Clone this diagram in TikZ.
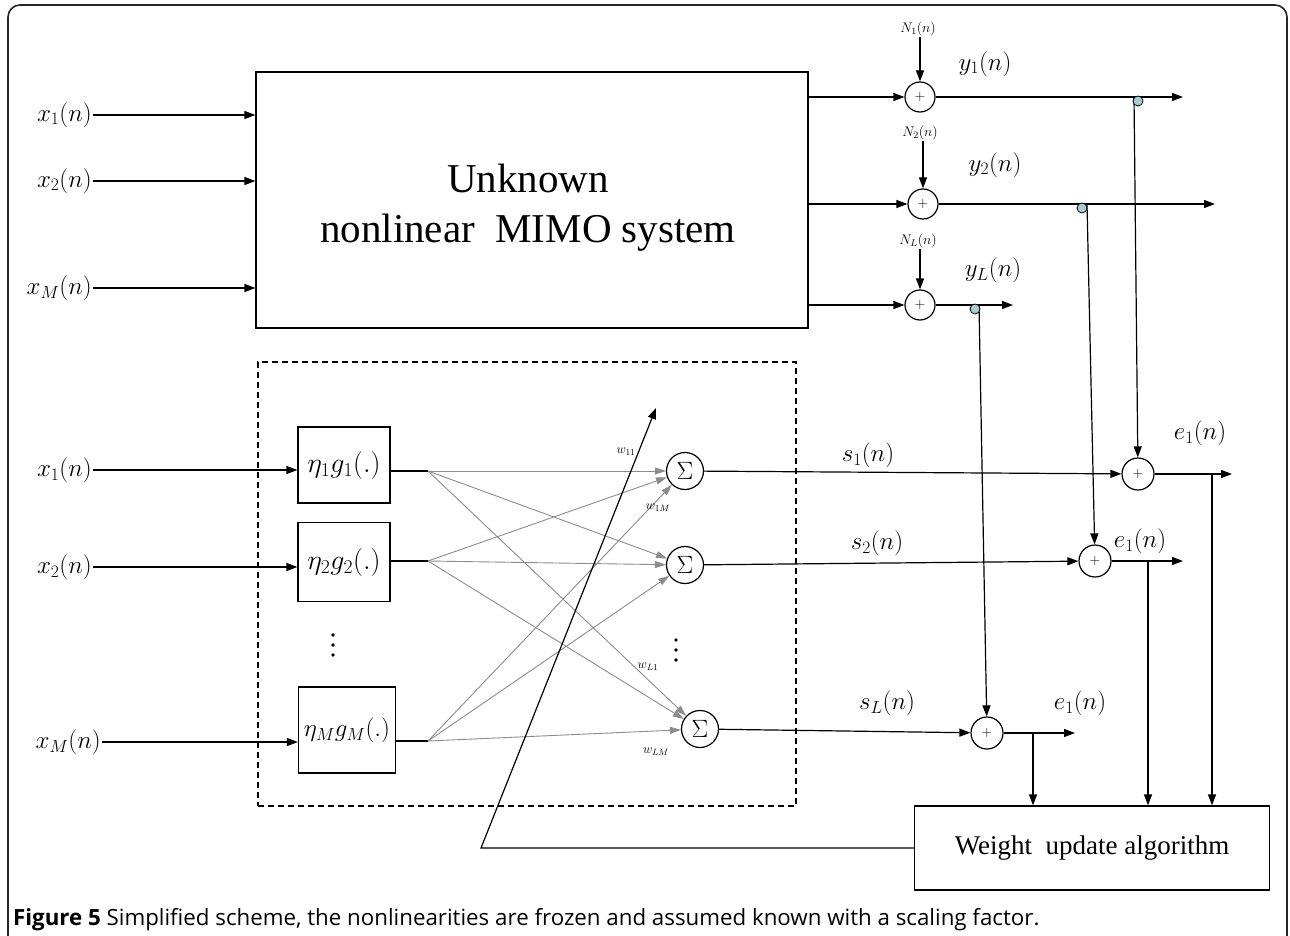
\RequirePackage{fix-cm}
\documentclass[tikz,border=0pt]{standalone}
\usepackage{fontspec}
\setmainfont{Liberation Serif}
\newfontfamily\capfont{Open Sans}
\usetikzlibrary{arrows.meta,calc}
\definecolor{tapblue}{RGB}{168,206,212}
\definecolor{fangray}{RGB}{140,140,140}
\begin{document}
\begin{tikzpicture}[x=1pt,y=-1pt,
  wire/.style={line width=1.2pt},
  arr/.style={wire,-{Triangle[length=11pt,width=8pt]}},
  fan/.style={line width=0.9pt,draw=fangray,-{Triangle[length=11pt,width=7pt,fill=fangray]}},
  blk/.style={draw,line width=1.2pt,inner sep=0pt},
  sumc/.style={draw,circle,line width=1.2pt,inner sep=0pt,minimum size=30pt,font=\fontsize{14}{14}\selectfont},
  sigc/.style={sumc,minimum size=37pt,font=\fontsize{25}{25}\selectfont},
  tap/.style={draw,circle,fill=tapblue,line width=0.8pt,inner sep=0pt,minimum size=10pt},
  lab/.style={font=\fontsize{25}{29}\selectfont,inner sep=1pt},
  tiny/.style={font=\fontsize{14}{16}\selectfont,inner sep=1pt},
  wl/.style={font=\fontsize{13}{15}\selectfont,inner sep=0pt},
  glab/.style={font=\fontsize{28}{32}\selectfont}
]
\useasboundingbox (0,0) rectangle (1290,936);
\draw[line width=1.6pt,rounded corners=12pt,draw=black!85] (8,940) -- (8,5) -- (1287,5) -- (1287,940);

% ---------- unknown system ----------
\node[blk,minimum width=552pt,minimum height=256pt] (sys) at (532,200) {};
\node[font=\fontsize{41}{50}\selectfont,align=center] (systxt) at (528,208) {Unknown\\nonlinear\ \ MIMO system};

\node[lab,anchor=east] (x1) at (93,115) {$x_1(n)$};
\node[lab,anchor=east] (x2) at (93,181) {$x_2(n)$};
\node[lab,anchor=east] (xM) at (93,288) {$x_M(n)$};
\draw[arr] (x1.east) -- (x1.east -| sys.west);
\draw[arr] (x2.east) -- (x2.east -| sys.west);
\draw[arr] (xM.east) -- (xM.east -| sys.west);

\node[sumc] (a1) at (920,97) {$+$};
\node[sumc] (a2) at (923,204) {$+$};
\node[sumc] (a3) at (920,305) {$+$};
\draw[arr] (a1 -| sys.east) -- (a1.west);
\draw[arr] (a2 -| sys.east) -- (a2.west);
\draw[arr] (a3 -| sys.east) -- (a3.west);

\node[tiny] (n1) at (918,29) {$N_1(n)$};
\node[tiny] (n2) at (920,133) {$N_2(n)$};
\node[tiny] (n3) at (918,241) {$N_L(n)$};
\draw[arr] (n1.south -| a1) -- (a1.north);
\draw[arr] (n2.south -| a2) -- (a2.north);
\draw[arr] (n3.south -| a3) -- (a3.north);

\node[lab] (y1) at (985,64) {$y_1(n)$};
\node[lab] (y2) at (995,165) {$y_2(n)$};
\node[lab] (yL) at (993,270) {$y_L(n)$};

\coordinate (y1e) at (1183,97);
\coordinate (y2e) at (1215,204);
\coordinate (y3e) at (1013,305);
\draw[arr] (a1) -- (y1e);
\draw[arr] (a2) -- (y2e);
\draw[arr] (a3) -- (y3e);

% ---------- model ----------
\node[draw,line width=1.1pt,dash pattern=on 6pt off 4pt,minimum width=538pt,minimum height=444pt,inner sep=0pt] (dbox) at (527,584) {};

\node[blk,minimum width=92pt,minimum height=76pt,glab] (g1) at (344,465) {$\eta_1 g_1(.)$};
\node[blk,minimum width=92pt,minimum height=79pt,glab] (g2) at (344,562) {$\eta_2 g_2(.)$};
\node[blk,minimum width=97pt,minimum height=86pt,font=\fontsize{25}{29}\selectfont] (gM) at (347,730) {$\eta_M g_M(.)$};

\node[lab,anchor=east] (u1) at (93,470) {$x_1(n)$};
\node[lab,anchor=east] (u2) at (93,567) {$x_2(n)$};
\node[lab,anchor=east] (uM) at (102,742) {$x_M(n)$};
\draw[arr] (u1.east) -- (u1.east -| g1.west);
\draw[arr] (u2.east) -- (u2.east -| g2.west);
\draw[arr] (uM.east) -- (uM.east -| gM.west);

\coordinate (f1) at (428,471);
\coordinate (f2) at (428,561);
\coordinate (f3) at (428,741);
\draw[wire] (f1 -| g1.east) -- (f1);
\draw[wire] (f2 -| g2.east) -- (f2);
\draw[wire] (f3 -| gM.east) -- (f3);

\node[sigc] (S1) at (685,471) {$\Sigma$};
\node[sigc] (S2) at (685,565) {$\Sigma$};
\node[sigc] (S3) at (700,729) {$\Sigma$};

\foreach \f in {f1,f2,f3}{
  \foreach \s in {S1,S2,S3}{
    \draw[fan] (\f) -- (\s);
  }
}

\node[wl] (w11) at (626,452) {$w_{11}$};
\node[wl] (w1M) at (658,508) {$w_{1M}$};
\node[wl] (wL1) at (648,667) {$w_{L1}$};
\node[wl] (wLM) at (656,752) {$w_{LM}$};

\foreach \yy in {635,645,655} \fill (333,\yy) circle (1.8pt);
\foreach \yy in {640,650,660} \fill (676,\yy) circle (1.8pt);

% ---------- error sums ----------
\node[sumc,minimum size=32pt] (e1) at (1138,474) {$+$};
\node[sumc,minimum size=32pt] (e2) at (1095,561) {$+$};
\node[sumc,minimum size=32pt] (e3) at (987,733) {$+$};

\draw[arr] (S1) -- (e1);
\draw[arr] (S2) -- (e2);
\draw[arr] (S3) -- (e3);
\node[lab] (s1) at (868,455) {$s_1(n)$};
\node[lab] (s2) at (877,543) {$s_2(n)$};
\node[lab] (sL) at (887,703) {$s_L(n)$};

\coordinate (j1) at (1134,97);
\coordinate (j2) at (1087,204);
\coordinate (j3) at (979,305);
\draw[arr] (j1) -- (e1);
\draw[arr] (j2) -- (e2);
\draw[arr] (j3) -- (e3);
\node[tap] (d1) at (1138,101) {};
\node[tap] (d2) at (1082,208) {};
\node[tap] (d3) at (975,309) {};

% ---------- weight update ----------
\node[blk,minimum width=355pt,minimum height=84pt,font=\fontsize{27}{30}\selectfont] (wb) at (1092,848) {Weight\ \ update algorithm};

\coordinate (eo1) at (1232,474);
\coordinate (eo2) at (1183,561);
\coordinate (eo3) at (1075,733);
\draw[arr] (e1) -- (eo1);
\draw[arr] (e2) -- (eo2);
\draw[arr] (e3) -- (eo3);
\node[lab] (el1) at (1200,433) {$e_1(n)$};
\node[lab] (el2) at (1140,541) {$e_1(n)$};
\node[lab] (el3) at (1080,703) {$e_1(n)$};

\coordinate (b1) at (1212,474);
\coordinate (b2) at (1148,561);
\coordinate (b3) at (1033,733);
\draw[arr] (b1) -- (b1 |- wb.north);
\draw[arr] (b2) -- (b2 |- wb.north);
\draw[arr] (b3) -- (b3 |- wb.north);

\coordinate (fbc) at (481,848);
\coordinate (fbt) at (656,408);
\draw[arr] (wb.west) -- (fbc) -- (fbt);

% ---------- caption ----------
\node[anchor=base west,inner sep=0pt,font=\capfont\fontsize{22.3}{26}\selectfont] (cap) at (13,925)
  {\textbf{Figure 5} Simplified scheme, the nonlinearities are frozen and assumed known with a scaling factor.};
\end{tikzpicture}
\end{document}
